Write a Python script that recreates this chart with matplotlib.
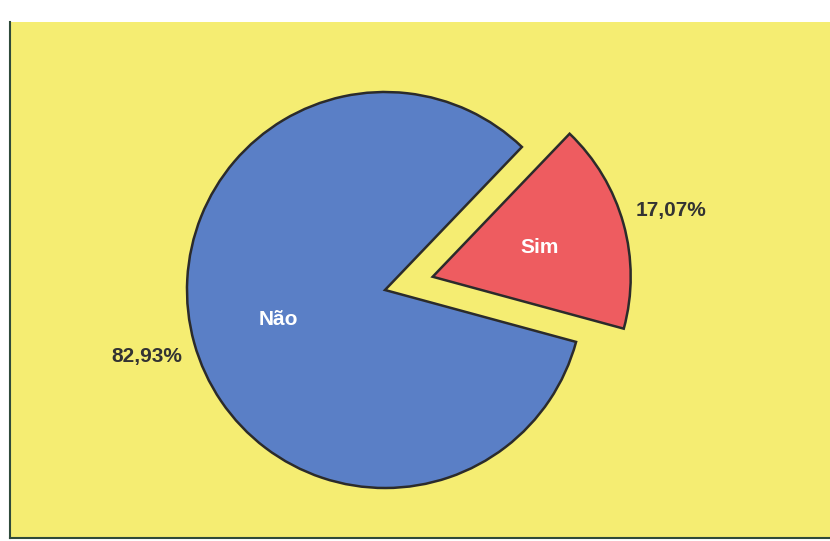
import numpy as np
import matplotlib
matplotlib.use("Agg")
import matplotlib.pyplot as plt

# dados do gráfico
categorias = ["Sim", "Não"]
percentuais = [17.07, 82.93]

cores = ["#ee5c60", "#5a7fc6"]
fundo = "#f5ed72"
borda = "#2b2b2b"

plt.rcParams["font.family"] = ["Liberation Sans", "DejaVu Sans"]

fig = plt.figure(figsize=(8.3, 5.41), dpi=100, facecolor="white")
# área amarela do gráfico
ax = fig.add_axes([10 / 830, 3 / 541, 820 / 830, 516 / 541])
ax.set_facecolor(fundo)


def fmt_pct(p):
    return f"{p:.2f}%".replace(".", ",")


wedges, texts, autotexts = ax.pie(
    percentuais,
    labels=categorias,
    colors=cores,
    explode=[0.25, 0],
    startangle=-15.2,
    radius=1,
    autopct=fmt_pct,
    pctdistance=1.25,
    labeldistance=0.56,
    wedgeprops=dict(edgecolor=borda, linewidth=1.8),
)

for t in texts:
    t.set_ha("center")
    t.set_va("center")
    t.set_color("white")
    t.set_fontsize(15)
    t.set_fontweight("bold")

for t in autotexts:
    t.set_color("#333333")
    t.set_fontsize(15)
    t.set_fontweight("bold")

ax.set_frame_on(True)
ax.set_aspect("auto")
ax.set_xlim(-375 / 198, 445 / 198)
ax.set_ylim(-248 / 198, 268 / 198)
ax.set_xticks([])
ax.set_yticks([])
for lado in ["top", "right"]:
    ax.spines[lado].set_visible(False)
for lado in ["left", "bottom"]:
    ax.spines[lado].set_color("#2f4a3a")
    ax.spines[lado].set_linewidth(1.5)

fig.savefig("out.png", dpi=100, facecolor="white")
